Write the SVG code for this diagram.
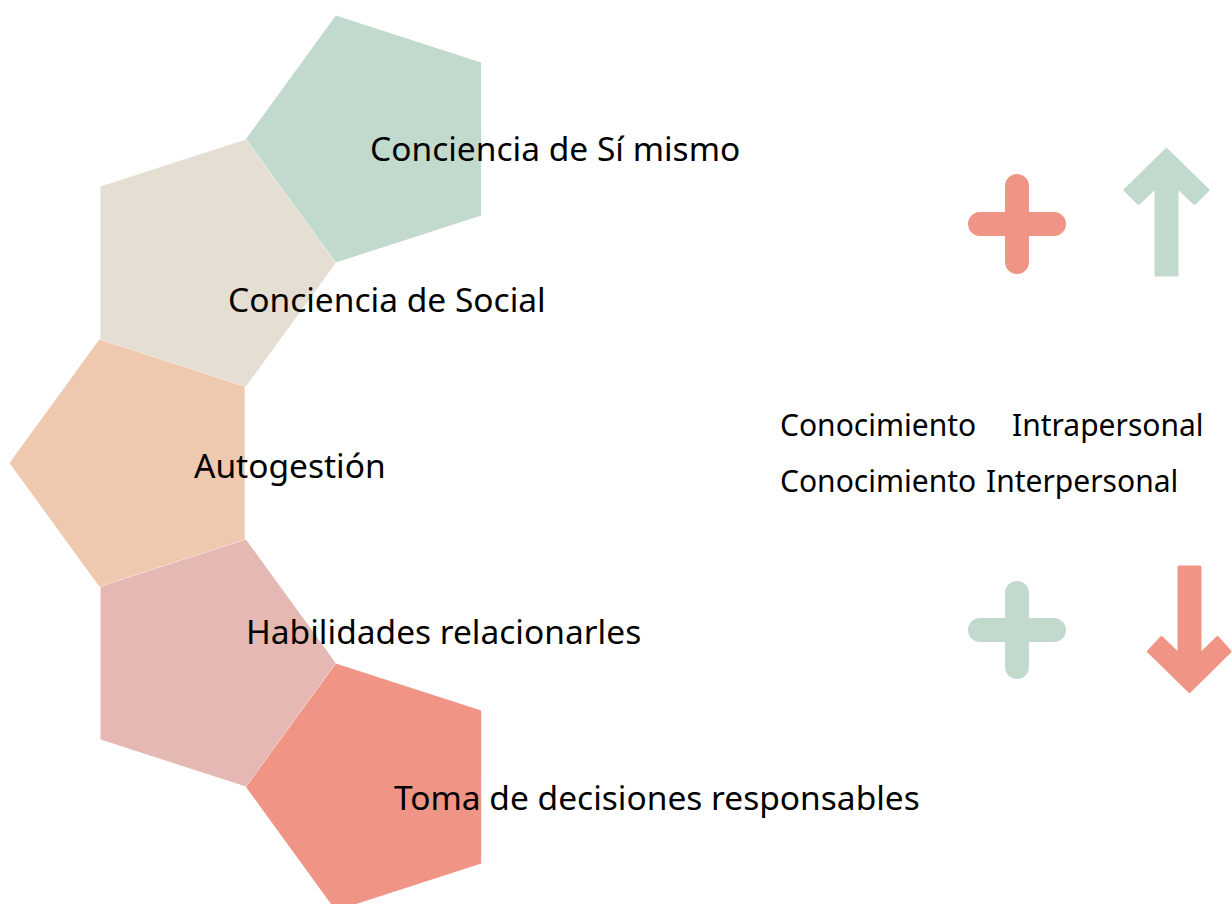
<svg xmlns="http://www.w3.org/2000/svg" width="1232" height="904" viewBox="0 0 1232 904">
<style>
.lbl{font-family:"Noto Sans","IBM Plex Sans","Liberation Sans",sans-serif;font-size:33.5px;fill:#000}
.side{font-family:"Noto Sans","IBM Plex Sans","Liberation Sans",sans-serif;font-size:30px;fill:#000}
.green{fill:#C2DACE}
.beige{fill:#E4DED3}
.peach{fill:#EEC9B0}
.pink{fill:#E5B8B3}
.salmon{fill:#F09585}
.plus{fill:none;stroke-width:24;stroke-linecap:round}
.arrow{stroke-width:3;stroke-linejoin:round}
</style>
<rect width="1232" height="904" fill="#fff"/>
<g id="node-conciencia-si-mismo">
<polygon class="green" points="246,139 335.8,15.4 481.2,62.6 481.2,215.4 335.8,262.6"/>
<text class="lbl" x="370" y="161">Conciencia de Sí mismo</text>
</g>
<g id="node-conciencia-social">
<polygon class="beige" points="335.7,263 245.9,139.4 100.5,186.6 100.5,339.4 245.9,386.6"/>
<text class="lbl" x="228" y="312">Conciencia de Social</text>
</g>
<g id="node-autogestion">
<polygon class="peach" points="9.5,463 99.3,339.4 244.7,386.6 244.7,539.4 99.3,586.6"/>
<text class="lbl" x="194" y="478">Autogestión</text>
</g>
<g id="node-habilidades">
<polygon class="pink" points="335.7,663 245.9,539.4 100.5,586.6 100.5,739.4 245.9,786.6"/>
<text class="lbl" x="246" y="644">Habilidades relacionarles</text>
</g>
<g id="node-toma-decisiones">
<polygon class="salmon" points="246,787 335.8,663.4 481.2,710.6 481.2,863.4 335.8,910.6"/>
<text class="lbl" x="394" y="810">Toma de decisiones responsables</text>
</g>
<g id="node-conocimiento">
<text class="side" x="780" y="436">Conocimiento<tspan x="1012">Intrapersonal</tspan></text>
<text class="side" x="780" y="492">Conocimiento<tspan x="986">Interpersonal</tspan></text>
</g>
<g id="icon-plus-top">
<path class="plus" stroke="#F09585" d="M1017,186V262M980,224H1054"/>
</g>
<g id="icon-arrow-up">
<polygon class="green arrow" stroke="#C2DACE" points="1166.5,149.5 1208,190 1194.5,203.5 1177,187 1177,275 1156,275 1156,187 1138.5,203.5 1125,190"/>
</g>
<g id="icon-plus-bottom">
<path class="plus" stroke="#C2DACE" d="M1017,593V667M980,630H1054"/>
</g>
<g id="icon-arrow-down">
<polygon class="salmon arrow" stroke="#F09585" points="1189.5,691.5 1148.5,651.5 1161.5,637.5 1179,654.5 1179,567 1200,567 1200,654.5 1217.5,637.5 1230,651.5"/>
</g>
</svg>
